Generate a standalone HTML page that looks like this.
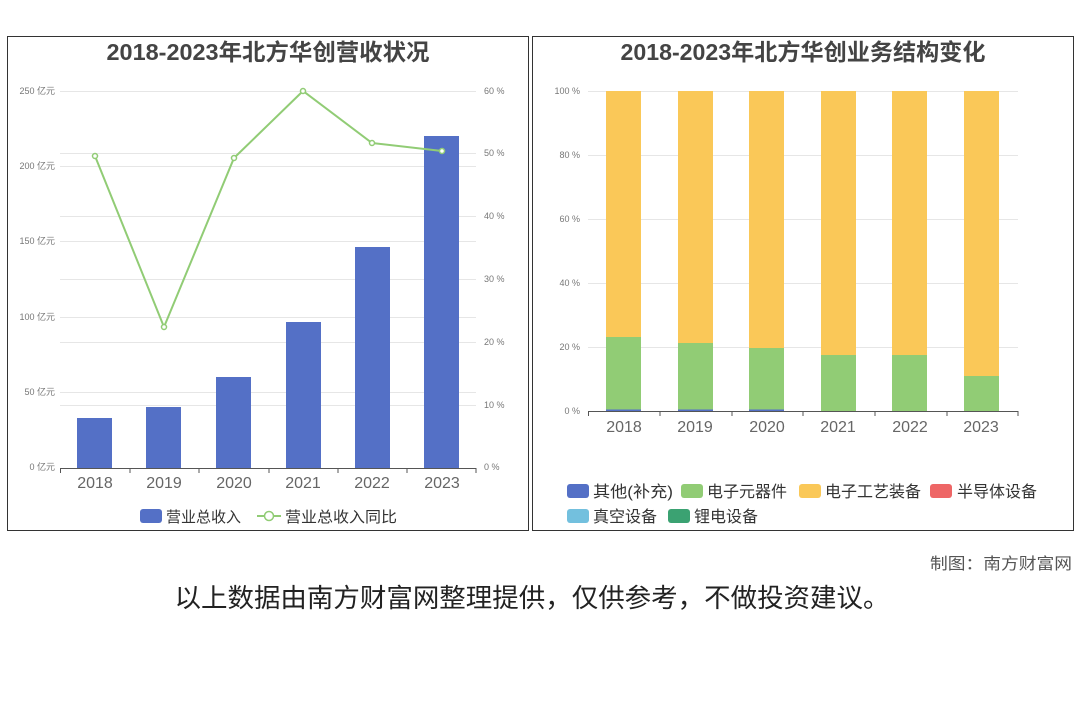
<!DOCTYPE html>
<html><head><meta charset="utf-8"><style>
body{margin:0;background:#fff;width:1080px;height:720px;overflow:hidden}
text{font-family:"Liberation Sans","Noto Sans CJK SC",sans-serif}
</style></head><body>
<svg width="1080" height="720" xmlns="http://www.w3.org/2000/svg">
<rect x="7.5" y="36.5" width="521" height="494" fill="#fff" stroke="#333" stroke-width="1"/>
<rect x="532.5" y="36.5" width="541" height="494" fill="#fff" stroke="#333" stroke-width="1"/>
<!-- Left -->
<text x="268" y="60" text-anchor="middle" font-size="23" font-weight="bold" fill="#444" textLength="323" lengthAdjust="spacingAndGlyphs">2018-2023年北方华创营收状况</text>
<g stroke="#e6e6e6" stroke-width="1">
<line x1="60" x2="476" y1="91.5" y2="91.5"/><line x1="60" x2="476" y1="166.5" y2="166.5"/><line x1="60" x2="476" y1="241.5" y2="241.5"/><line x1="60" x2="476" y1="317.5" y2="317.5"/><line x1="60" x2="476" y1="392.5" y2="392.5"/>
<line x1="60" x2="476" y1="153.5" y2="153.5"/><line x1="60" x2="476" y1="216.5" y2="216.5"/><line x1="60" x2="476" y1="279.5" y2="279.5"/><line x1="60" x2="476" y1="342.5" y2="342.5"/><line x1="60" x2="476" y1="405.5" y2="405.5"/>
</g>
<g font-size="9" fill="#777" text-anchor="end">
<text x="55" y="94">250 亿元</text><text x="55" y="169">200 亿元</text><text x="55" y="244">150 亿元</text><text x="55" y="320">100 亿元</text><text x="55" y="395">50 亿元</text><text x="55" y="470">0 亿元</text>
</g>
<g font-size="9" fill="#777">
<text x="484" y="94">60 %</text><text x="484" y="156">50 %</text><text x="484" y="219">40 %</text><text x="484" y="282">30 %</text><text x="484" y="345">20 %</text><text x="484" y="408">10 %</text><text x="484" y="470">0 %</text>
</g>
<g fill="#5470c6">
<rect x="77" y="418" width="35" height="50"/><rect x="146" y="407" width="35" height="61"/><rect x="216" y="377" width="35" height="91"/><rect x="286" y="322" width="35" height="146"/><rect x="355" y="247" width="35" height="221"/><rect x="424" y="136" width="35" height="332"/>
</g>
<line x1="60" x2="476" y1="468.5" y2="468.5" stroke="#555"/>
<g stroke="#555"><line x1="60.5" x2="60.5" y1="468" y2="473"/><line x1="130" x2="130" y1="468" y2="473"/><line x1="199" x2="199" y1="468" y2="473"/><line x1="269" x2="269" y1="468" y2="473"/><line x1="338" x2="338" y1="468" y2="473"/><line x1="407" x2="407" y1="468" y2="473"/><line x1="476" x2="476" y1="468" y2="473"/></g>
<g font-size="16" fill="#666" text-anchor="middle">
<text x="95" y="488">2018</text><text x="164" y="488">2019</text><text x="234" y="488">2020</text><text x="303" y="488">2021</text><text x="372" y="488">2022</text><text x="442" y="488">2023</text>
</g>
<polyline points="95,156 164,327 234,158 303,91 372,143 442,151" fill="none" stroke="#91cc75" stroke-width="2"/>
<g fill="#fff" stroke="#91cc75" stroke-width="1.5">
<circle cx="95" cy="156" r="2.5"/><circle cx="164" cy="327" r="2.5"/><circle cx="234" cy="158" r="2.5"/><circle cx="303" cy="91" r="2.5"/><circle cx="372" cy="143" r="2.5"/><circle cx="442" cy="151" r="2.5"/>
</g>
<rect x="140" y="509" width="22" height="14" rx="3" fill="#5470c6"/>
<text x="166" y="522" font-size="15" fill="#333">营业总收入</text>
<line x1="257" x2="281" y1="516" y2="516" stroke="#91cc75" stroke-width="2"/>
<circle cx="269" cy="516" r="4.5" fill="#fff" stroke="#91cc75" stroke-width="1.5"/>
<text x="285" y="522" font-size="15" fill="#333" textLength="112" lengthAdjust="spacingAndGlyphs">营业总收入同比</text>
<!-- Right -->
<text x="803" y="60" text-anchor="middle" font-size="23" font-weight="bold" fill="#444" textLength="365" lengthAdjust="spacingAndGlyphs">2018-2023年北方华创业务结构变化</text>
<g stroke="#e6e6e6"><line x1="588" x2="1018" y1="91.5" y2="91.5"/><line x1="588" x2="1018" y1="155.5" y2="155.5"/><line x1="588" x2="1018" y1="219.5" y2="219.5"/><line x1="588" x2="1018" y1="283.5" y2="283.5"/><line x1="588" x2="1018" y1="347.5" y2="347.5"/></g>
<g font-size="9" fill="#777" text-anchor="end">
<text x="580" y="94">100 %</text><text x="580" y="158">80 %</text><text x="580" y="222">60 %</text><text x="580" y="286">40 %</text><text x="580" y="350">20 %</text><text x="580" y="414">0 %</text>
</g>
<g fill="#fac858">
<rect x="606" y="91" width="35" height="320"/><rect x="678" y="91" width="35" height="320"/><rect x="749" y="91" width="35" height="320"/><rect x="821" y="91" width="35" height="320"/><rect x="892" y="91" width="35" height="320"/><rect x="964" y="91" width="35" height="320"/>
</g>
<g fill="#91cc75">
<rect x="606" y="337" width="35" height="74"/><rect x="678" y="343" width="35" height="68"/><rect x="749" y="348" width="35" height="63"/><rect x="821" y="355" width="35" height="56"/><rect x="892" y="355" width="35" height="56"/><rect x="964" y="376" width="35" height="35"/>
</g>
<g fill="#5470c6"><rect x="606" y="409.5" width="35" height="1.5"/><rect x="678" y="409.5" width="35" height="1.5"/><rect x="749" y="409.5" width="35" height="1.5"/></g>
<line x1="588" x2="1018" y1="411.5" y2="411.5" stroke="#555"/>
<g stroke="#555"><line x1="588.5" x2="588.5" y1="411" y2="416"/><line x1="660" x2="660" y1="411" y2="416"/><line x1="732" x2="732" y1="411" y2="416"/><line x1="803" x2="803" y1="411" y2="416"/><line x1="875" x2="875" y1="411" y2="416"/><line x1="947" x2="947" y1="411" y2="416"/><line x1="1018" x2="1018" y1="411" y2="416"/></g>
<g font-size="16" fill="#666" text-anchor="middle">
<text x="624" y="432">2018</text><text x="695" y="432">2019</text><text x="767" y="432">2020</text><text x="838" y="432">2021</text><text x="910" y="432">2022</text><text x="981" y="432">2023</text>
</g>
<g font-size="16" fill="#333">
<rect x="567" y="484" width="22" height="14" rx="3" fill="#5470c6"/><text x="593" y="497" textLength="80" lengthAdjust="spacingAndGlyphs">其他(补充)</text>
<rect x="681" y="484" width="22" height="14" rx="3" fill="#91cc75"/><text x="707" y="497">电子元器件</text>
<rect x="799" y="484" width="22" height="14" rx="3" fill="#fac858"/><text x="825" y="497">电子工艺装备</text>
<rect x="930" y="484" width="22" height="14" rx="3" fill="#ee6666"/><text x="957" y="497">半导体设备</text>
<rect x="567" y="509" width="22" height="14" rx="3" fill="#73c0de"/><text x="593" y="522">真空设备</text>
<rect x="668" y="509" width="22" height="14" rx="3" fill="#3ba272"/><text x="694" y="522">锂电设备</text>
</g>
<text x="1072" y="569" text-anchor="end" font-size="16" fill="#555" textLength="142" lengthAdjust="spacingAndGlyphs">制图：南方财富网</text>
<text x="532" y="607" text-anchor="middle" font-size="26" fill="#222" textLength="715" lengthAdjust="spacingAndGlyphs">以上数据由南方财富网整理提供，仅供参考，不做投资建议。</text>
</svg>
</body></html>
